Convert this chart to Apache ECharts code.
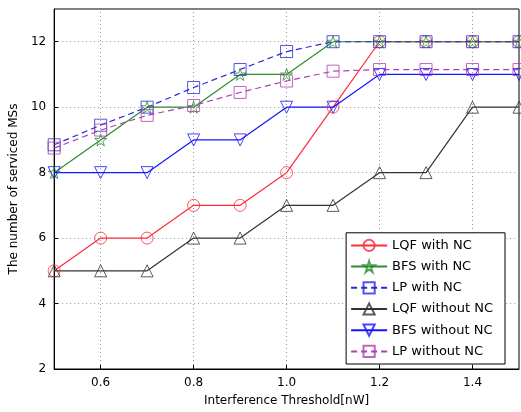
<!DOCTYPE html>
<html>
<head>
<meta charset="utf-8">
<script src="https://cdn.jsdelivr.net/npm/echarts@6/dist/echarts.min.js"></script>
<style>
  html, body { margin: 0; padding: 0; background: #fff; }
  #chart { width: 521px; height: 412px; }
</style>
</head>
<body>
<div id="chart"></div>
<script>
const thresholds = [0.5, 0.6, 0.7, 0.8, 0.9, 1.0, 1.1, 1.2, 1.3, 1.4, 1.5];
const xTicks = [0.6, 0.8, 1.0, 1.2, 1.4];
const seriesNames = ['LQF with NC', 'BFS with NC', 'LP with NC', 'LQF without NC', 'BFS without NC', 'LP without NC'];

const lqfWithNC = [5, 6, 6, 7, 7, 8, 10, 12, 12, 12, 12];
const bfsWithNC = [8, 9, 10, 10, 11, 11, 12, 12, 12, 12, 12];
const lpWithNC = [8.85, 9.45, 10.0, 10.6, 11.15, 11.7, 12, 12, 12, 12, 12];
const lqfWithoutNC = [5, 5, 5, 6, 6, 7, 7, 8, 8, 10, 10];
const bfsWithoutNC = [8, 8, 8, 9, 9, 10, 10, 11, 11, 11, 11];
const lpWithoutNC = [8.75, 9.3, 9.75, 10.05, 10.45, 10.8, 11.1, 11.15, 11.15, 11.15, 11.15];

const starPath = 'path://M50,0 L61.8,36.2 L100,36.2 L69.1,58.8 L80.9,95.1 L50,72.4 L19.1,95.1 L30.9,58.8 L0,36.2 L38.2,36.2 Z';
const gridStyle = { color: '#999', width: 1, type: [1, 3] };
const clear = 'rgba(255,255,255,0)';

function makeSeries(name, values, color, symbol, dashed, rotate) {
    return {
        name: name,
        type: 'line',
        data: thresholds.map((x, i) => [x, values[i]]),
        symbol: symbol,
        symbolSize: 12,
        symbolRotate: rotate || 0,
        showAllSymbol: true,
        lineStyle: { color: color, width: 1.2, type: dashed ? [6, 4] : 'solid' },
        itemStyle: { color: clear, borderColor: color, borderWidth: 1, opacity: 0.8 },
        emphasis: { disabled: true },
        z: 2
    };
}

const series = [
    makeSeries(seriesNames[0], lqfWithNC, '#ff2a3a', 'circle', false),
    makeSeries(seriesNames[1], bfsWithNC, '#2e8b2e', starPath, false),
    makeSeries(seriesNames[2], lpWithNC, '#2a2ad8', 'rect', true),
    makeSeries(seriesNames[3], lqfWithoutNC, '#333333', 'triangle', false),
    makeSeries(seriesNames[4], bfsWithoutNC, '#1515ff', 'triangle', false, 180),
    makeSeries(seriesNames[5], lpWithoutNC, '#b040b0', 'rect', true)
];

// vertical dotted grid lines only at labelled x ticks
series[0].markLine = {
    silent: true,
    symbol: 'none',
    label: { show: false },
    lineStyle: gridStyle,
    emphasis: { disabled: true },
    data: xTicks.map(v => ({ xAxis: v })),
    z: 0
};

const chart = echarts.init(document.getElementById('chart'));

chart.setOption({
    animation: false,
    textStyle: { fontFamily: 'DejaVu Sans' },
    grid: {
        left: 48, right: 2, top: 9, bottom: 40,
        show: true, borderColor: '#000', borderWidth: 1, backgroundColor: 'transparent'
    },
    legend: {
        orient: 'vertical',
        right: 16,
        bottom: 48,
        itemWidth: 36,
        itemHeight: 14,
        itemGap: 8,
        padding: [6, 12, 6, 4],
        borderColor: '#000',
        borderWidth: 1,
        backgroundColor: '#fff',
        itemStyle: { color: clear },
        textStyle: { fontSize: 13, color: '#000', fontFamily: 'DejaVu Sans' },
        data: seriesNames.map(n => ({ name: n, itemStyle: { color: clear } }))
    },
    xAxis: {
        type: 'value',
        min: 0.5,
        max: 1.5,
        name: 'Interference Threshold[nW]',
        nameLocation: 'middle',
        nameGap: 26,
        nameTextStyle: { fontSize: 12, color: '#000' },
        axisLine: { show: true, lineStyle: { color: '#000' } },
        axisTick: { inside: true, length: 4, customValues: xTicks, lineStyle: { color: '#000' } },
        axisLabel: { customValues: xTicks, fontSize: 12, color: '#000', formatter: v => v.toFixed(1) },
        splitLine: { show: false }
    },
    yAxis: {
        type: 'value',
        min: 2,
        max: 13,
        interval: 2,
        name: 'The number of serviced MSs',
        nameLocation: 'middle',
        nameGap: 30,
        nameTextStyle: { fontSize: 12, color: '#000' },
        axisLine: { show: true, lineStyle: { color: '#000' } },
        axisTick: { inside: true, length: 4, lineStyle: { color: '#000' } },
        axisLabel: { fontSize: 12, color: '#000', showMaxLabel: false },
        splitLine: { show: true, lineStyle: gridStyle }
    },
    series: series
});
</script>
</body>
</html>
